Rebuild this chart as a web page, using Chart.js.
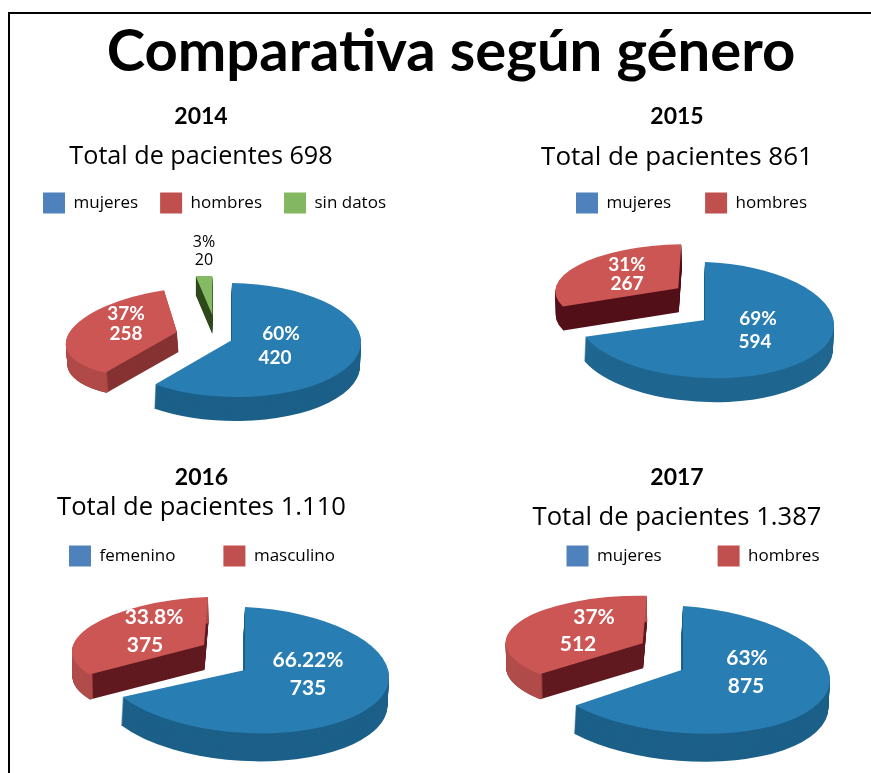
<!DOCTYPE html>
<html lang="es">
<head>
<meta charset="utf-8">
<title>Comparativa según género</title>
<script src="https://cdn.jsdelivr.net/npm/chart.js@4"></script>
<style>
html,body{margin:0;padding:0;background:#fff;width:871px;height:773px;overflow:hidden}
#frame{position:absolute;left:8px;top:12px;width:880px;height:800px;border:2px solid #000;border-right:0;border-bottom:0;box-sizing:border-box}
canvas{position:absolute;display:block}
.t{position:absolute;transform:translate(-50%,-50%);white-space:nowrap;color:#000;line-height:1;z-index:3}
h1.t{font:700 58px Lato,sans-serif;margin:0;left:451px;top:48px;color:#000}
.y{font:700 23px Lato,sans-serif}
.s{font-family:"Open Sans",sans-serif;font-weight:400}
</style>
</head>
<body>
<div id="frame"></div>
<h1 class="t">Comparativa según género</h1>
<div id="texts"></div>
<script>
// ---- data ----
const years = ['2014', '2015', '2016', '2017'];
const totals = ['Total de pacientes 698', 'Total de pacientes 861', 'Total de pacientes 1.110', 'Total de pacientes 1.387'];
const categories2014 = ['mujeres', 'hombres', 'sin datos'];
const values2014 = [420, 258, 20];
const percents2014 = ['60%', '37%', '3%'];
const categories2015 = ['mujeres', 'hombres'];
const values2015 = [594, 267];
const percents2015 = ['69%', '31%'];
const categories2016 = ['femenino', 'masculino'];
const values2016 = [735, 375];
const percents2016 = ['66.22%', '33.8%'];
const categories2017 = ['mujeres', 'hombres'];
const values2017 = [875, 512];
const percents2017 = ['63%', '37%'];

// ---- styles ----
const legendColors = ['#4f81bd', '#c0504d', '#84b761'];
const topColors = ['#287db3', '#cc5654', '#84ba63'];

// Per-chart look: canvas frame, legend placement, and one oblique view (a,b,c,d,e,f) per slice.
const views = [
  { box:[0,100,436,340], titleY:[115,154.5], titleX:201, titleSize:25.2, legendC:214.5, legendY:203, legendGap:22,
    slices:[
      {m:[129,2,0,57,232,340], depth:[-1,24], face:'#1c6089', rim:'#1c6089', label:[[281,334],[275,358]]},
      {m:[111,-9,-7,44,177,332], depth:[1.5,20], face:'#863233', rim:'#b04a48', label:[[126,314],[126,334]]},
      {m:[93,3,0,39,212.3,315], depth:[0,19], face:'#2f4a1d', rim:'#2f4a1d', label:[[204,242],[204,260]], plain:true}
    ]},
  { box:[400,100,600,340], titleY:[115,154.5], titleX:677, titleSize:26, legendC:691.5, legendY:203, legendGap:34,
    slices:[
      {m:[129,5,0,58,705,320], depth:[-1,24], face:'#1f6690', rim:'#1f6690', label:[[758,319],[755,342]]},
      {m:[123,-2,-3,44,678.3,288.3], depth:[0.5,24], face:'#531018', rim:'#531018', label:[[627,265],[627,284]]}
    ]},
  { box:[0,470,436,303], titleY:[476,505.5], titleX:201.5, titleSize:25.6, legendC:202, legendY:556, legendGap:48,
    slices:[
      {m:[144,7,0,63,245,670], depth:[-1.5,28], face:'#1c6089', rim:'#1c6089', label:[[308,660],[308,688]]},
      {m:[132,-5,-4,48,204,645], depth:[0.5,25], face:'#611a20', rim:'#b04c4a', label:[[154,617],[145,645]]}
    ]},
  { box:[400,470,600,303], titleY:[476,515.5], titleX:677, titleSize:25.6, legendC:693, legendY:556, legendGap:56,
    slices:[
      {m:[147,10,0,63.5,683,669.5], depth:[-1.5,28], face:'#1c6089', rim:'#1c6089', label:[[747,658],[746,686]]},
      {m:[137,2,-4,47.6,642.7,643.3], depth:[0.5,25], face:'#611a20', rim:'#b04c4a', label:[[594,617],[578,644]]}
    ]}
];

const series = [
  {cats:categories2014, vals:values2014, pct:percents2014},
  {cats:categories2015, vals:values2015, pct:percents2015},
  {cats:categories2016, vals:values2016, pct:percents2016},
  {cats:categories2017, vals:values2017, pct:percents2017}
];

// Draws each slice of the library's arc elements tilted, extruded and separated.
const tiltedPie = {
  id:'tiltedPie',
  beforeDatasetsDraw(chart){
    const view = chart.options.plugins.tiltedPie.view;
    const [ox, oy] = view.box;
    const ctx = chart.ctx;
    const arcs = chart.getDatasetMeta(0).data;
    const paint = (arc, s, dx, dy, color, inner) => {
      const R = arc.outerRadius, o = arc.options, r0 = arc.innerRadius;
      const [a,b,c,d,e,f] = s.m;
      ctx.save();
      ctx.transform(a/R, b/R, c/R, d/R, e-ox+dx, f-oy+dy);
      ctx.translate(-arc.x, -arc.y);
      arc.options = Object.assign({}, o, {backgroundColor:color, borderWidth:0});
      arc.innerRadius = inner ? R*inner : r0;
      arc.draw(ctx);
      arc.options = o;
      arc.innerRadius = r0;
      ctx.restore();
    };
    for (let i = arcs.length-1; i >= 0; i--) {
      const s = view.slices[i], n = Math.ceil(s.depth[1]);
      for (let k = n; k >= 1; k--) paint(arcs[i], s, s.depth[0]*k/n, s.depth[1]*k/n, s.face);
      if (s.rim !== s.face) for (let k = n; k >= 1; k--) paint(arcs[i], s, s.depth[0]*k/n, s.depth[1]*k/n, s.rim, 0.97);
      paint(arcs[i], s, 0, 0, topColors[i]);
    }
    const ds = series[view.index];
    ctx.save();
    ctx.textAlign = 'center';
    ctx.textBaseline = 'middle';
    view.slices.forEach((s, i) => {
      ctx.font = s.plain ? '400 16px "Open Sans",sans-serif' : '700 '+view.labelSize+'px Lato,sans-serif';
      ctx.fillStyle = s.plain ? '#000' : '#fff';
      ctx.fillText(ds.pct[i], s.label[0][0]-ox, s.label[0][1]-oy);
      ctx.fillText(String(ds.vals[i]), s.label[1][0]-ox, s.label[1][1]-oy);
    });
    ctx.restore();
    return false;
  }
};

const texts = document.getElementById('texts');
views.forEach((view, idx) => {
  view.index = idx;
  view.labelSize = idx < 2 ? 19 : 21;
  const [x, y, w, h] = view.box;
  [[years[idx],'y',view.titleY[0]],[totals[idx],'s',view.titleY[1]]].forEach(([txt,cl,ty]) => {
    const el = document.createElement('div');
    el.className = 't '+cl; el.textContent = txt;
    el.style.left = view.titleX+'px'; el.style.top = ty+'px';
    if (cl === 's') el.style.fontSize = view.titleSize+'px';
    texts.appendChild(el);
  });
  const cv = document.createElement('canvas');
  cv.width = w; cv.height = h;
  cv.style.left = x+'px'; cv.style.top = y+'px';
  document.body.appendChild(cv);
  const ds = series[idx];
  const c = view.legendC - x;
  new Chart(cv, {
    type:'pie',
    data:{labels:ds.cats, datasets:[{data:ds.vals, backgroundColor:topColors.slice(0,ds.vals.length), borderWidth:0}]},
    options:{
      responsive:false, animation:false,
      layout:{padding:{
        left: c < w/2 ? 0 : 2*c-w,
        right: c < w/2 ? w-2*c : 0,
        top: view.legendY - y - view.legendGap - 10.5,
        bottom:0}},
      plugins:{
        tooltip:{enabled:false},
        tiltedPie:{view},
        legend:{display:true, position:'top', align:'center',
          labels:{boxWidth:22, boxHeight:21, padding:view.legendGap, color:'#1a1a1a',
            font:{family:'"Open Sans",sans-serif', size:17},
            generateLabels:(ch)=>ch.data.labels.map((t,i)=>({text:t, fillStyle:legendColors[i], strokeStyle:legendColors[i], lineWidth:0, hidden:false, index:i}))
          }}
      }
    },
    plugins:[tiltedPie]
  });
});
</script>
</body>
</html>
